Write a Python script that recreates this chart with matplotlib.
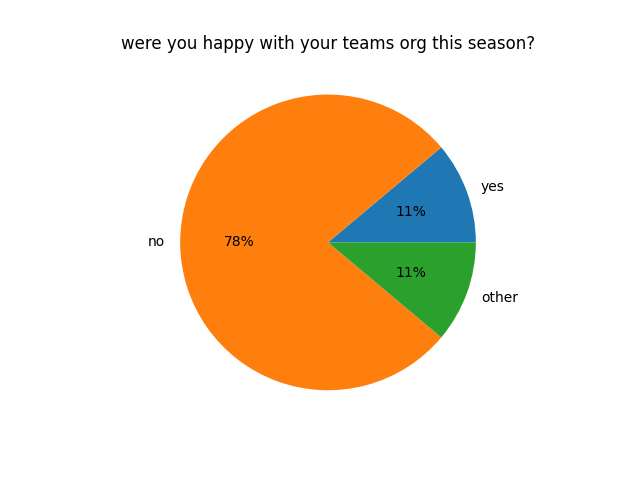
import matplotlib
matplotlib.use("Agg")
import matplotlib.pyplot as plt

## survey answers
labels = ["yes", "no", "other"]
counts = [1, 7, 1]

fig = plt.figure(figsize=(6.4, 4.8), dpi=100)
plt.pie(counts, labels=labels, autopct="%1.0f%%")
plt.title("were you happy with your teams org this season?")
plt.savefig("out.png")
